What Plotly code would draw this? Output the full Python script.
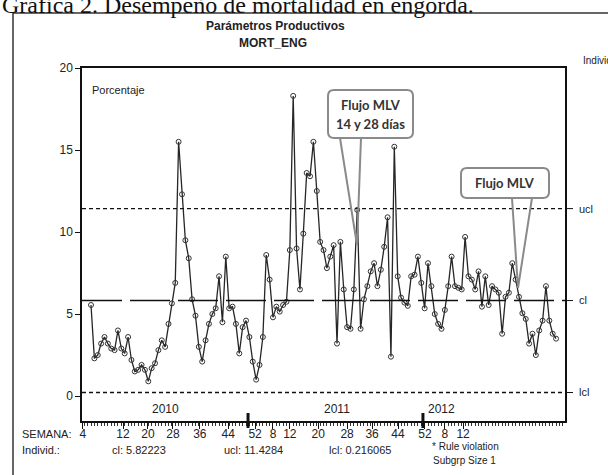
import plotly.graph_objects as go

# ---------------- data ----------------
semana_idx = list(range(139))
mort_eng = [
    5.55, 2.3, 2.5, 3.2, 3.6, 3.2, 2.9, 2.8, 4.0, 2.9,
    2.6, 3.6, 2.2, 1.5, 1.6, 1.9, 1.6, 0.9, 1.7, 2.0,
    2.8, 3.4, 3.0, 4.4, 5.65, 6.9, 15.5, 12.3, 9.5, 8.4,
    5.9, 4.9, 3.0, 2.1, 3.4, 4.4, 5.0, 5.35, 7.3, 4.5,
    8.5, 5.35, 5.45, 4.4, 2.6, 4.2, 4.6, 3.6, 2.1, 1.0,
    1.9, 3.6, 8.6, 7.1, 4.8, 5.45, 5.15, 5.55, 5.75, 8.9,
    18.3, 9.0, 6.5, 9.9, 13.6, 13.4, 15.5, 12.5, 9.4, 8.9,
    7.8, 8.5, 9.2, 3.2, 9.4, 6.5, 4.2, 4.1, 6.5, 11.35,
    4.1, 5.9, 6.7, 7.6, 8.1, 6.7, 7.7, 9.1, 10.9, 2.4,
    15.2, 7.3, 6.0, 5.7, 5.5, 7.3, 7.4, 8.5, 6.9, 5.35,
    8.1, 6.7, 5.0, 4.4, 4.1, 5.25, 6.7, 8.5, 6.7, 6.6,
    6.5, 9.7, 7.3, 7.1, 6.5, 7.6, 5.45, 7.3, 5.55, 6.7,
    6.5, 6.3, 3.8, 6.05, 6.3, 8.1, 7.1, 6.05, 5.05, 4.7,
    3.2, 3.8, 2.5, 4.0, 4.6, 6.7, 4.6, 3.8, 3.5,
]
assert len(mort_eng) == len(semana_idx)

ucl = 11.4284
cl = 5.82223
lcl = 0.216065

tick_pos = [-2.4, 9.5, 16.9, 24.3, 32.3, 40.7, 48.7, 54.0, 59.0, 67.4, 76.0, 83.4, 91.1, 99.1, 105.0, 110.4]
tick_text = ["4", "12", "20", "28", "36", "44", "52", "8", "12", "20", "28", "36", "44", "52", "8", "12"]
years = ["2010", "2011", "2012"]
year_pos = [22, 73, 104]
year_breaks = [46.6, 98.5]

# ---------------- layout helpers (pixel -> paper) ----------------
W, H = 608, 475
L, R, T, B = 82, 565, 68, 421
def X(px):
    return (px - L) / (R - L)
def Y(py):
    return (B - py) / (B - T)

def rounded_box(x0, y0, x1, y1, r=6):
    rx = r / (R - L)
    ry = r / (B - T)
    a, b, c, d = X(x0), Y(y0), X(x1), Y(y1)  # b top, d bottom (b > d)
    return (f"M {a+rx},{b} L {c-rx},{b} Q {c},{b} {c},{b-ry} "
            f"L {c},{d+ry} Q {c},{d} {c-rx},{d} L {a+rx},{d} "
            f"Q {a},{d} {a},{d+ry} L {a},{b-ry} Q {a},{b} {a+rx},{b} Z")

SANS = "Liberation Sans, Arial, sans-serif"
CALL = "Lato, Carlito, sans-serif"

fig = go.Figure()
fig.add_trace(go.Scatter(
    x=semana_idx, y=mort_eng, mode="lines+markers",
    line=dict(color="#262626", width=1.3),
    marker=dict(symbol="circle-open", size=5, color="#333333", line=dict(width=1)),
    showlegend=False, hoverinfo="x+y",
))

shapes = []
# control limits
shapes.append(dict(type="line", xref="paper", yref="y", x0=0, x1=1, y0=ucl, y1=ucl,
                   line=dict(color="#111", width=1.3, dash="4px,3px")))
shapes.append(dict(type="line", xref="paper", yref="y", x0=0, x1=1, y0=cl, y1=cl,
                   line=dict(color="#111", width=1.5, dash="40px,8px")))
shapes.append(dict(type="line", xref="paper", yref="y", x0=0, x1=1, y0=lcl, y1=lcl,
                   line=dict(color="#111", width=1.3, dash="4px,3px")))
# right side tick lines
for v in (ucl, cl, lcl):
    shapes.append(dict(type="line", xref="paper", yref="y", x0=1, x1=X(573), y0=v, y1=v,
                       line=dict(color="#111", width=1)))
# year breaks
for xb in year_breaks:
    shapes.append(dict(type="line", xref="x", yref="paper", x0=xb, x1=xb, y0=Y(428), y1=Y(413),
                       line=dict(color="#111", width=3)))
# outer frame of the scanned figure
shapes.append(dict(type="line", xref="paper", yref="paper", x0=X(13), x1=X(608), y0=Y(13), y1=Y(13),
                   line=dict(color="#333", width=1.5)))
shapes.append(dict(type="line", xref="paper", yref="paper", x0=X(13), x1=X(13), y0=Y(13), y1=Y(475),
                   line=dict(color="#333", width=1.5)))
# callout 1
shapes.append(dict(type="path", xref="paper", yref="paper", path=rounded_box(328, 90, 413, 138),
                   line=dict(color="#8a8a8a", width=2), fillcolor="white"))
shapes.append(dict(type="path", xref="paper", yref="paper",
                   path=f"M {X(340)},{Y(138)} L {X(357)},{Y(245)} L {X(361)},{Y(138)}",
                   line=dict(color="#8a8a8a", width=2)))
# callout 2
shapes.append(dict(type="path", xref="paper", yref="paper", path=rounded_box(461, 168, 549, 198),
                   line=dict(color="#8a8a8a", width=2), fillcolor="white"))
shapes.append(dict(type="path", xref="paper", yref="paper",
                   path=f"M {X(512)},{Y(198)} L {X(518)},{Y(288)} L {X(532)},{Y(198)}",
                   line=dict(color="#8a8a8a", width=2)))

ann = []
def txt(px, py, s, size=11, anchor="left", bold=False, font=SANS, color="#222", vanchor="middle"):
    if bold:
        s = f"<b>{s}</b>"
    ann.append(dict(xref="paper", yref="paper", x=X(px), y=Y(py), text=s, showarrow=False,
                    xanchor=anchor, yanchor=vanchor, font=dict(family=font, size=size, color=color)))

txt(0, 20, "Gráfica 2. Desempeño de mortalidad en engorda.", size=24, anchor="left",
    font="Liberation Serif, Times New Roman, serif", color="#111", vanchor="bottom")
txt(275, 26, "Parámetros Productivos", size=12, anchor="center", bold=True)
txt(273, 43, "MORT_ENG", size=12, anchor="center", bold=True)
txt(581, 60, "Individ", size=10, anchor="left")
txt(90, 90, "Porcentaje", size=11, anchor="left")
txt(577, 209, "ucl", size=11)
txt(577, 300, "cl", size=11)
txt(577, 392, "lcl", size=11)
txt(370.5, 105, "Flujo MLV", size=13, anchor="center", bold=True, font=CALL, color="#333")
txt(370.5, 124, "14 y 28 días", size=13, anchor="center", bold=True, font=CALL, color="#333")
txt(505, 183, "Flujo MLV", size=13, anchor="center", bold=True, font=CALL, color="#333")
txt(20, 434, "SEMANA:", size=11)
txt(20, 450, "Individ.:", size=11)
txt(110, 450, "cl: 5.82223", size=11)
txt(222, 450, "ucl: 11.4284", size=11)
txt(327, 450, "lcl: 0.216065", size=11)
txt(430, 446, "* Rule violation", size=10)
txt(431, 460, "Subgrp Size 1", size=10)
for yr, xp in zip(years, year_pos):
    ann.append(dict(xref="x", yref="y", x=xp, y=-0.8, text=yr, showarrow=False,
                    font=dict(family=SANS, size=12, color="#222")))

fig.update_layout(
    width=W, height=H,
    margin=dict(l=L, r=W - R, t=T, b=H - B),
    paper_bgcolor="white", plot_bgcolor="white",
    shapes=shapes, annotations=ann,
    xaxis=dict(range=[-2.67, 140.65], showgrid=False, zeroline=False,
               showline=True, linecolor="#111", linewidth=1.5, mirror=True,
               tickmode="array", tickvals=tick_pos, ticktext=tick_text,
               ticks="outside", ticklen=6, tickcolor="#111", ticklabelstandoff=-5,
               minor=dict(tickmode="linear", tick0=0, dtick=1, ticks="outside", ticklen=3, tickcolor="#333"),
               tickfont=dict(family=SANS, size=12, color="#222")),
    yaxis=dict(range=[-1.52, 20], showgrid=False, zeroline=False,
               showline=True, linecolor="#111", linewidth=1.5, mirror=True,
               tickvals=[0, 5, 10, 15, 20], ticks="outside", ticklen=5, tickcolor="#111",
               tickfont=dict(family=SANS, size=12, color="#222")),
)

fig.write_html("out.html", config={"displayModeBar": False},
               post_script="document.body.style.margin='0';document.body.style.overflow='hidden';")
